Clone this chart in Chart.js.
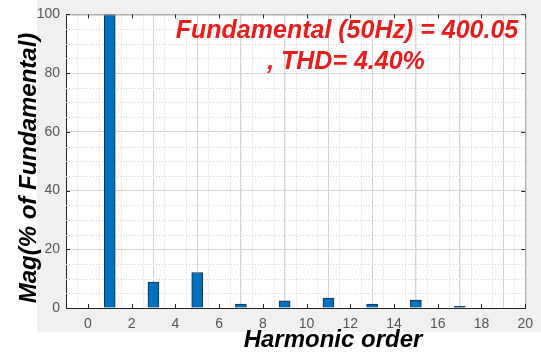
<!DOCTYPE html>
<html>
<head>
<meta charset="utf-8">
<script src="https://cdn.jsdelivr.net/npm/chart.js@4/dist/chart.umd.min.js"></script>
<style>
  html, body { margin: 0; padding: 0; background: #fff; }
  canvas { display: block; }
</style>
</head>
<body>
<canvas id="fftChart" width="541" height="352"></canvas>
<script>
// harmonic spectrum, magnitude in % of fundamental
var harmonicOrders = [1, 3, 5, 7, 9, 11, 13, 15, 17];
var magnitudes = [100, 8.8, 12.1, 1.3, 2.4, 3.4, 1.3, 2.7, 0.6];
var xTicks = [0, 2, 4, 6, 8, 10, 12, 14, 16, 18, 20];
var yTicks = [0, 20, 40, 60, 80, 100];
var titleLines = ['Fundamental (50Hz) = 400.05', ', THD= 4.40%'];

var labelFont = 'bold italic 24px "Liberation Sans", Arial, sans-serif';
var titleFont = 'bold italic 25px "Liberation Sans", Arial, sans-serif';

var matlabFrame = {
    id: 'matlabFrame',
    beforeDraw: function (chart) {
        var ctx = chart.ctx, a = chart.chartArea;
        ctx.save();
        ctx.fillStyle = '#fff';
        ctx.fillRect(0, 0, chart.width, chart.height);
        ctx.fillStyle = '#f0f0f0';
        ctx.fillRect(37, 0, chart.width - 37, 332);
        ctx.fillStyle = '#fff';
        ctx.fillRect(a.left, a.top, a.right - a.left, a.bottom - a.top);
        ctx.restore();
    },
    beforeDatasetsDraw: function (chart) {
        // dotted minor grid
        var ctx = chart.ctx, a = chart.chartArea;
        var xs = chart.scales.x, ys = chart.scales.y;
        ctx.save();
        ctx.strokeStyle = '#cfcfcf';
        ctx.lineWidth = 1;
        ctx.setLineDash([1, 2]);
        for (var v = -0.5; v < 20; v += 0.5) {
            if (v % 2 === 0) continue;
            var px = Math.round(xs.getPixelForValue(v)) + 0.5;
            ctx.beginPath();
            ctx.moveTo(px, a.top);
            ctx.lineTo(px, a.bottom);
            ctx.stroke();
        }
        for (var w = 5; w < 100; w += 5) {
            if (w % 20 === 0) continue;
            var py = Math.round(ys.getPixelForValue(w)) + 0.5;
            ctx.beginPath();
            ctx.moveTo(a.left, py);
            ctx.lineTo(a.right, py);
            ctx.stroke();
        }
        ctx.restore();
    },
    afterDraw: function (chart) {
        var ctx = chart.ctx, a = chart.chartArea;
        var xs = chart.scales.x, ys = chart.scales.y;
        ctx.save();
        // box on top and right
        ctx.strokeStyle = '#9a9a9a';
        ctx.lineWidth = 1;
        ctx.beginPath();
        ctx.moveTo(a.left, a.top + 0.5);
        ctx.lineTo(a.right + 0.5, a.top + 0.5);
        ctx.lineTo(a.right + 0.5, a.bottom);
        ctx.stroke();
        // inward tick marks
        ctx.strokeStyle = '#262626';
        ctx.beginPath();
        xTicks.forEach(function (t) {
            var px = Math.round(xs.getPixelForValue(t)) + 0.5;
            ctx.moveTo(px, a.bottom);
            ctx.lineTo(px, a.bottom - 4);
            ctx.moveTo(px, a.top);
            ctx.lineTo(px, a.top + 4);
        });
        yTicks.forEach(function (t) {
            var py = Math.round(ys.getPixelForValue(t)) + 0.5;
            ctx.moveTo(a.left, py);
            ctx.lineTo(a.left + 4, py);
            ctx.moveTo(a.right, py);
            ctx.lineTo(a.right - 4, py);
        });
        ctx.stroke();

        // axis titles
        ctx.fillStyle = '#000';
        ctx.font = labelFont;
        ctx.textAlign = 'center';
        ctx.textBaseline = 'alphabetic';
        ctx.fillText('Harmonic order', 333, 347);
        ctx.save();
        ctx.translate(36, 168);
        ctx.rotate(-Math.PI / 2);
        ctx.fillText('Mag(% of Fundamental)', 0, 0);
        ctx.restore();

        // spectrum summary
        ctx.fillStyle = '#ea1b1b';
        ctx.font = titleFont;
        ctx.fillText(titleLines[0], 347, 38);
        ctx.fillText(titleLines[1], 346, 69);
        ctx.restore();
    }
};

document.addEventListener('DOMContentLoaded', function () {
    var ctx = document.getElementById('fftChart').getContext('2d');
    new Chart(ctx, {
        type: 'bar',
        data: {
            datasets: [{
                data: harmonicOrders.map(function (h, i) { return { x: h, y: magnitudes[i] }; }),
                backgroundColor: '#0072bd',
                borderColor: '#1c2f45',
                borderWidth: 1,
                borderSkipped: 'bottom',
                barThickness: 11
            }]
        },
        options: {
            responsive: false,
            animation: false,
            layout: { padding: { top: 14, right: 14, left: 0, bottom: 0 } },
            plugins: {
                legend: { display: false },
                tooltip: { enabled: false }
            },
            scales: {
                x: {
                    type: 'linear',
                    min: -1,
                    max: 20,
                    offset: false,
                    afterBuildTicks: function (s) {
                        s.ticks = xTicks.map(function (v) { return { value: v }; });
                    },
                    afterFit: function (s) { s.height = 44; },
                    grid: { color: '#d6d6d6', drawTicks: false },
                    border: { color: '#262626' },
                    ticks: {
                        padding: 8,
                        color: '#555',
                        font: { family: '"Liberation Sans", Arial, sans-serif', size: 14 }
                    }
                },
                y: {
                    min: 0,
                    max: 100,
                    afterBuildTicks: function (s) {
                        s.ticks = yTicks.map(function (v) { return { value: v }; });
                    },
                    afterFit: function (s) { s.width = 66; },
                    grid: { color: '#d6d6d6', drawTicks: false },
                    border: { color: '#262626' },
                    ticks: {
                        padding: 6,
                        color: '#555',
                        font: { family: '"Liberation Sans", Arial, sans-serif', size: 14 }
                    }
                }
            }
        },
        plugins: [matlabFrame]
    });
});
</script>
</body>
</html>
